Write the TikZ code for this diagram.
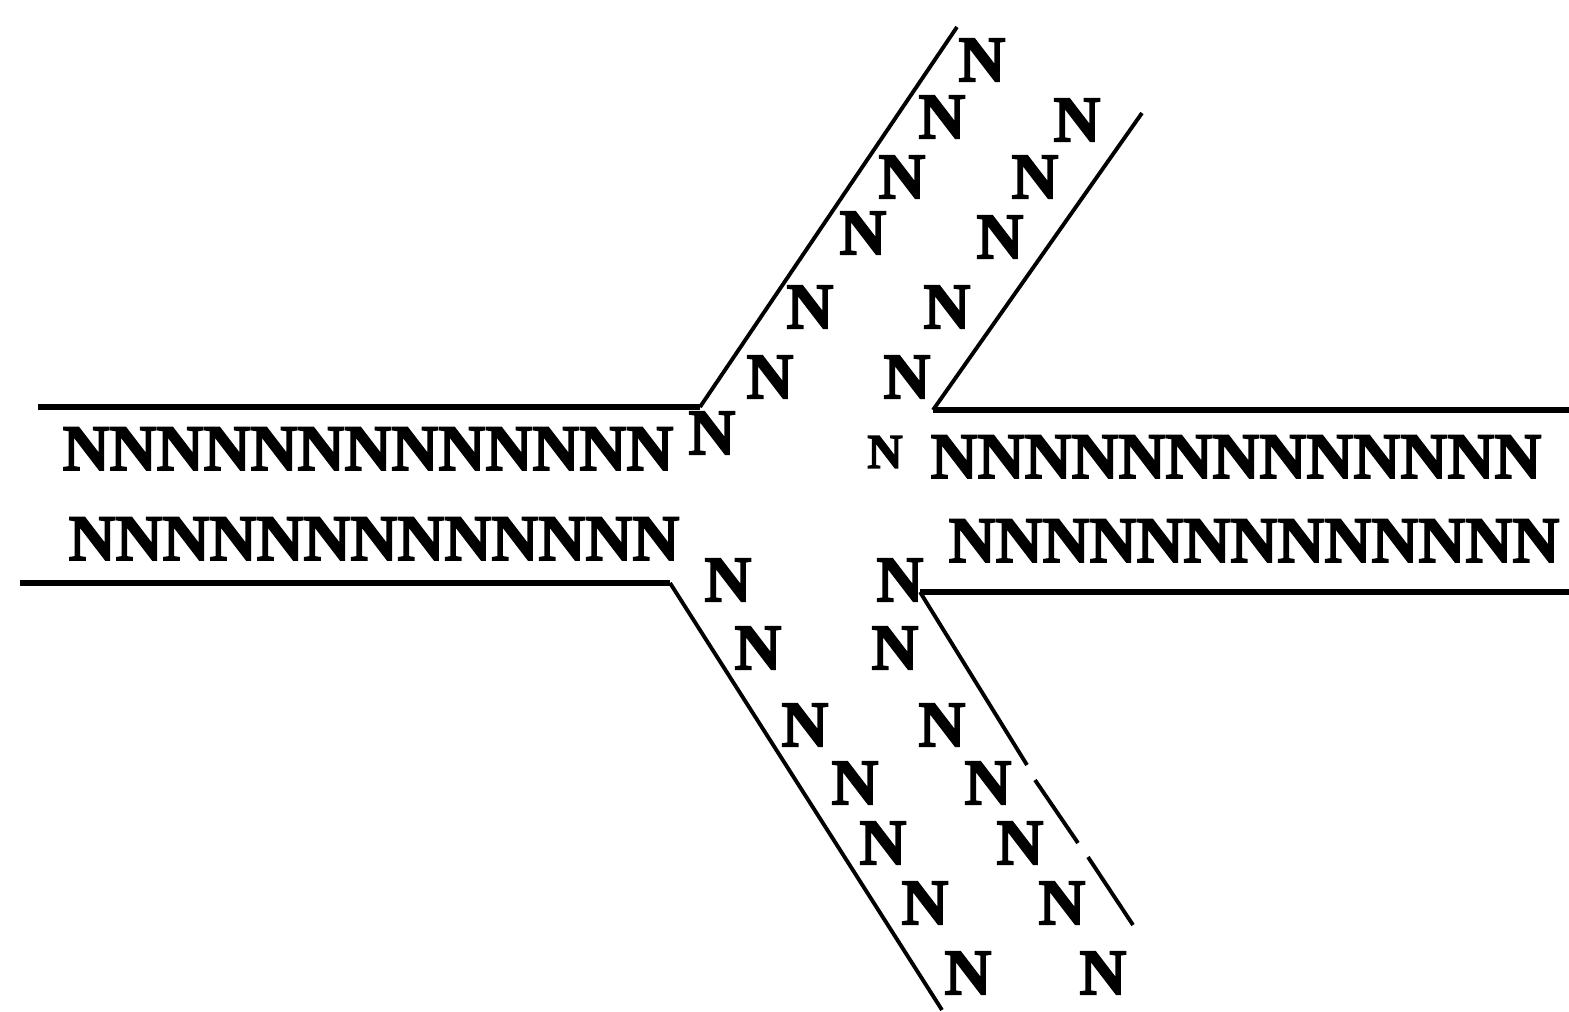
\documentclass[tikz,border=0pt]{standalone}
\usepackage{fontspec}
\setmainfont{Liberation Serif}
\newfontfamily\nucfont{Liberation Serif Bold}[FakeBold=2.5]
\usetikzlibrary{positioning}

\begin{document}
\begin{tikzpicture}[x=0.01cm, y=-0.01cm,
  base/.style={font=\fontsize{18.5}{20}\selectfont\nucfont, inner sep=0pt},
  nrow/.style={base, anchor=base west},
  arm/.style={line width=1.1pt},
  duplex/.style={line width=1.5pt}]
\useasboundingbox (0,0) rectangle (1569,1012);
% horizontal arms
\node[nrow] (lrowa) at (62,470) {NNNNNNNNNNNNN};
\node[nrow] (lrowb) at (68,560) {NNNNNNNNNNNNN};
\node[nrow] (rrowa) at (930,478) {NNNNNNNNNNNNN};
\node[nrow] (rrowb) at (948,562) {NNNNNNNNNNNNN};
% upper arm
\foreach \x/\y [count=\i] in {712/433, 770/377, 810/307, 863/233, 902/177, 942/117, 982/60}
  \node[base] (ul\i) at (\x,\y) {N};
\node[base, scale=0.75] (ur0) at (885,452) {N};
\foreach \x/\y [count=\i] in {907/377, 947/307, 1000/237, 1035/177, 1077/120}
  \node[base] (ur\i) at (\x,\y) {N};
% lower arm
\foreach \x/\y [count=\i] in {728/580, 758/648, 805/725, 855/783, 883/843, 925/903, 968/973}
  \node[base] (ll\i) at (\x,\y) {N};
\foreach \x/\y [count=\i] in {900/580, 895/648, 942/725, 988/783, 1020/843, 1062/903, 1103/973}
  \node[base] (lr\i) at (\x,\y) {N};
% backbones
\draw[duplex] (38,407) -- (700,407);
\draw[arm] (700,407) -- (957,27);
\draw[duplex] (20,583) -- (670,583);
\draw[arm] (670,583) -- (942,1010);
\draw[duplex] (933,410) -- (1569,410);
\draw[arm] (933,410) -- (1142,113);
\draw[duplex] (920,592) -- (1569,592);
\draw[arm] (920,592) -- (1027,765);
\draw[arm] (1035,780) -- (1078,843);
\draw[arm] (1088,857) -- (1133,925);
\end{tikzpicture}
\end{document}
